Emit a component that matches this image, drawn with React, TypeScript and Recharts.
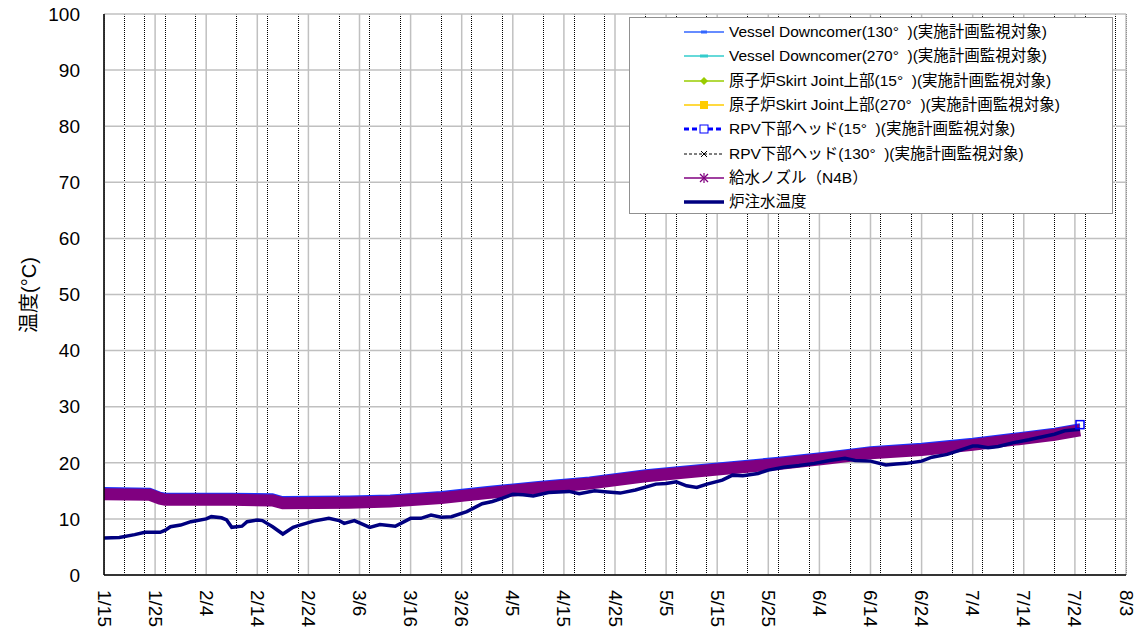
import React from 'react';
import { LineChart, Line, XAxis, YAxis, CartesianGrid, Legend } from 'recharts';

// ---- tick labels ----
const DATE_LABELS = ['1/15', '1/25', '2/4', '2/14', '2/24', '3/6', '3/16', '3/26', '4/5', '4/15', '4/25', '5/5', '5/15', '5/25', '6/4', '6/14', '6/24', '7/4', '7/14', '7/24', '8/3'];
const MAJOR_TICKS = DATE_LABELS.map((_, i) => i * 10);
const MINOR_TICKS = Array.from({ length: 101 }, (_, i) => i * 2).filter((d) => d % 10 !== 0);
const Y_TICKS = [0, 10, 20, 30, 40, 50, 60, 70, 80, 90, 100];

// ---- RPV temperature series (days since 1/15) ----
const BAND_DAYS = [0, 9, 11, 12, 25, 33, 35, 48, 56, 66, 75, 85, 95, 106, 119, 132, 142, 150, 160, 170, 179, 186, 191];
const VESSEL_130 = [15.0, 14.9, 14.2, 14.0, 14.0, 13.9, 13.4, 13.5, 13.7, 14.3, 15.2, 16.1, 16.9, 18.2, 19.3, 20.4, 21.4, 22.3, 22.9, 23.8, 24.8, 25.6, 26.4];
const VESSEL_270 = [14.6, 14.5, 13.8, 13.6, 13.6, 13.5, 13.0, 13.1, 13.3, 13.9, 14.8, 15.7, 16.5, 17.8, 18.9, 20.0, 21.0, 21.9, 22.5, 23.4, 24.4, 25.2, 26.0];
const SKIRT_15 = [14.2, 14.1, 13.4, 13.2, 13.2, 13.1, 12.6, 12.7, 12.9, 13.5, 14.4, 15.3, 16.1, 17.4, 18.5, 19.6, 20.6, 21.5, 22.1, 23.0, 24.0, 24.8, 25.6];
const SKIRT_270 = [14.0, 13.9, 13.2, 13.0, 13.0, 12.9, 12.4, 12.5, 12.7, 13.3, 14.2, 15.1, 15.9, 17.2, 18.3, 19.4, 20.4, 21.3, 21.9, 22.8, 23.8, 24.6, 25.4];
const RPV_15 = [15.4, 15.3, 14.6, 14.4, 14.4, 14.3, 13.8, 13.9, 14.1, 14.7, 15.6, 16.5, 17.3, 18.6, 19.7, 20.8, 21.8, 22.7, 23.3, 24.2, 25.2, 26.0, 26.8];
const RPV_130 = [14.5, 14.4, 13.7, 13.5, 13.5, 13.4, 12.9, 13.0, 13.2, 13.8, 14.7, 15.6, 16.4, 17.7, 18.8, 19.9, 20.9, 21.8, 22.4, 23.3, 24.3, 25.1, 25.9];
const N4B = [14.4, 14.3, 13.6, 13.4, 13.4, 13.3, 12.8, 12.9, 13.1, 13.7, 14.6, 15.5, 16.3, 17.6, 18.7, 19.8, 20.8, 21.7, 22.3, 23.2, 24.2, 25.0, 25.8];

// ---- injection water temperature ----
const INJ_DAYS = [0, 3, 6, 8, 11, 12, 13, 15, 17, 20, 21, 23, 24, 25, 27, 28, 30, 31, 33, 35, 37, 38, 41, 44, 46, 47, 49, 52, 54, 57, 60, 62, 64, 66, 68, 71, 74, 76, 78, 80, 82, 84, 87, 91, 93, 96, 98, 101, 104, 108, 110, 112, 114, 116, 118, 121, 123, 125, 128, 130, 133, 136, 139, 142, 145, 147, 150, 153, 155, 157, 160, 162, 165, 168, 170, 171, 173, 175, 178, 181, 183, 186, 188, 191];
const INJ_TEMP = [6.6, 6.7, 7.2, 7.6, 7.6, 8.0, 8.6, 8.9, 9.5, 10.0, 10.4, 10.2, 9.8, 8.5, 8.7, 9.5, 9.8, 9.7, 8.6, 7.3, 8.5, 8.8, 9.6, 10.1, 9.7, 9.2, 9.7, 8.5, 9.0, 8.7, 10.1, 10.1, 10.7, 10.3, 10.4, 11.3, 12.7, 13.1, 13.7, 14.4, 14.3, 14.1, 14.7, 14.9, 14.5, 15.0, 14.85, 14.6, 15.15, 16.2, 16.3, 16.6, 15.9, 15.6, 16.2, 16.9, 17.8, 17.7, 18.1, 18.7, 19.2, 19.5, 19.9, 20.4, 20.8, 20.4, 20.3, 19.6, 19.8, 19.9, 20.3, 21.0, 21.5, 22.4, 23.0, 23.0, 22.7, 22.9, 23.6, 24.1, 24.5, 25.1, 25.7, 26.0];

const bandData = BAND_DAYS.map((day, i) => ({
  day,
  v130: VESSEL_130[i],
  v270: VESSEL_270[i],
  s15: SKIRT_15[i],
  s270: SKIRT_270[i],
  r15: RPV_15[i],
  r130: RPV_130[i],
  n4b: N4B[i],
}));
const injData = INJ_DAYS.map((day, i) => ({ day, inj: INJ_TEMP[i] }));

const SERIES = [
  { key: 'v130', name: 'Vessel Downcomer(130°  )(実施計画監視対象)', color: '#3366FF' },
  { key: 'v270', name: 'Vessel Downcomer(270°  )(実施計画監視対象)', color: '#33CCCC' },
  { key: 's15', name: '原子炉Skirt Joint上部(15°  )(実施計画監視対象)', color: '#99CC00' },
  { key: 's270', name: '原子炉Skirt Joint上部(270°  )(実施計画監視対象)', color: '#FFCC00' },
  { key: 'r15', name: 'RPV下部ヘッド(15°  )(実施計画監視対象)', color: '#0000FF' },
  { key: 'r130', name: 'RPV下部ヘッド(130°  )(実施計画監視対象)', color: '#000000' },
  { key: 'n4b', name: '給水ノズル（N4B）', color: '#800080' },
  { key: 'inj', name: '炉注水温度', color: '#000080' },
];

const LegendIcon = ({ k, color }: { k: string; color: string }) => {
  const cy = 8;
  let line = <line x1={0} x2={40} y1={cy} y2={cy} stroke={color} strokeWidth={1.5} />;
  let marker: React.ReactNode = null;
  if (k === 'v130') marker = <rect x={17} y={cy - 1.5} width={6} height={3} fill={color} />;
  if (k === 'v270') marker = <rect x={16} y={cy - 1.5} width={8} height={3} fill={color} />;
  if (k === 's15') marker = <polygon points={`20,${cy - 4} 24,${cy} 20,${cy + 4} 16,${cy}`} fill={color} />;
  if (k === 's270') marker = <rect x={16} y={cy - 4} width={8} height={8} fill={color} />;
  if (k === 'r15') {
    line = <line x1={0} x2={40} y1={cy} y2={cy} stroke={color} strokeWidth={3} strokeDasharray="5 3" />;
    marker = <rect x={16} y={cy - 4} width={8} height={8} fill="#fff" stroke={color} strokeWidth={1} />;
  }
  if (k === 'r130') {
    line = <line x1={0} x2={40} y1={cy} y2={cy} stroke={color} strokeWidth={1} strokeDasharray="3 2" />;
    marker = (
      <g stroke={color} strokeWidth={1}>
        <line x1={17} y1={cy - 3} x2={23} y2={cy + 3} />
        <line x1={17} y1={cy + 3} x2={23} y2={cy - 3} />
      </g>
    );
  }
  if (k === 'n4b')
    marker = (
      <g stroke={color} strokeWidth={1.2}>
        <line x1={16} y1={cy - 4} x2={24} y2={cy + 4} />
        <line x1={16} y1={cy + 4} x2={24} y2={cy - 4} />
        <line x1={20} y1={cy - 5} x2={20} y2={cy + 5} />
      </g>
    );
  if (k === 'inj') line = <line x1={0} x2={40} y1={cy} y2={cy} stroke={color} strokeWidth={3.5} />;
  return (
    <svg width={40} height={16} style={{ display: 'block', flex: 'none' }}>
      {line}
      {marker}
    </svg>
  );
};

const renderLegend = () => (
  <div
    style={{
      width: 482,
      height: 193,
      border: '1px solid #909090',
      background: '#fff',
      boxSizing: 'content-box',
      paddingTop: 2,
      fontFamily: '"Liberation Sans", "Noto Sans CJK JP", sans-serif',
      fontSize: 15.5,
      color: '#000',
    }}
  >
    {SERIES.map((s) => (
      <div key={s.key} style={{ display: 'flex', alignItems: 'center', height: 24.3, paddingLeft: 54 }}>
        <LegendIcon k={s.key} color={s.color} />
        <span style={{ marginLeft: 5, whiteSpace: 'pre', lineHeight: '16px' }}>{s.name}</span>
      </div>
    ))}
  </div>
);

const XTick = (props: any) => {
  const { x, y, payload } = props;
  const label = DATE_LABELS[Math.round(payload.value / 10)];
  return (
    <text
      x={x}
      y={y}
      transform={`rotate(90 ${x} ${y})`}
      textAnchor="start"
      dominantBaseline="central"
      fontSize={19}
      fontFamily='"Liberation Sans", Arial, sans-serif'
      fill="#000"
    >
      {label}
    </text>
  );
};

const lastSquare = (props: any) => {
  const { cx, cy, index } = props;
  if (index !== BAND_DAYS.length - 1) return <g key={`d${index}`} />;
  return <rect key={`d${index}`} x={cx - 4} y={cy - 4} width={8} height={8} fill="none" stroke="#0000FF" strokeWidth={1.5} />;
};

export default function App() {
  return (
    <div style={{ position: 'absolute', left: 0, top: 0, width: 1144, height: 636, background: '#fff' }}>
      <LineChart width={1144} height={636} margin={{ top: 14, right: 18, left: 0, bottom: 0 }}>
        <XAxis
          xAxisId="minor"
          type="number"
          dataKey="day"
          domain={[0, 200]}
          ticks={MINOR_TICKS}
          allowDataOverflow
          hide
        />
        <CartesianGrid
          xAxisId="minor"
          horizontal={false}
          stroke="#000"
          strokeDasharray="1 1"
          strokeWidth={1}
          shapeRendering="crispEdges"
        />
        <CartesianGrid stroke="#c0c0c0" strokeWidth={1.5} />
        <XAxis
          type="number"
          dataKey="day"
          domain={[0, 200]}
          ticks={MAJOR_TICKS}
          allowDataOverflow
          interval={0}
          height={61}
          tickLine={false}
          tickSize={6}
          tickMargin={9}
          tick={<XTick />}
          axisLine={{ stroke: '#000', strokeWidth: 1.5 }}
        />
        <YAxis
          type="number"
          domain={[0, 100]}
          ticks={Y_TICKS}
          interval={0}
          width={104}
          tickLine={false}
          tickSize={6}
          tickMargin={18}
          axisLine={{ stroke: '#000', strokeWidth: 1.5 }}
          tick={{ fontSize: 19, fill: '#000', fontFamily: '"Liberation Sans", Arial, sans-serif' }}
          label={{
            content: () => (
              <text
                x={29}
                y={295}
                transform="rotate(-90 29 295)"
                textAnchor="middle"
                dominantBaseline="central"
                fontSize={20}
                fontFamily='"Liberation Sans", "Noto Sans CJK JP", sans-serif'
                fill="#000"
              >
                温度(°C)
              </text>
            ),
          }}
        />
        <Line data={bandData} dataKey="v130" name={SERIES[0].name} stroke="#3366FF" strokeWidth={2} dot={false} isAnimationActive={false} />
        <Line data={bandData} dataKey="r15" name={SERIES[4].name} stroke="#1a33ff" strokeWidth={3} dot={lastSquare} isAnimationActive={false} />
        <Line data={bandData} dataKey="v270" name={SERIES[1].name} stroke="#33CCCC" strokeWidth={2} dot={false} isAnimationActive={false} />
        <Line data={bandData} dataKey="s15" name={SERIES[2].name} stroke="#99CC00" strokeWidth={2} dot={false} isAnimationActive={false} />
        <Line data={bandData} dataKey="s270" name={SERIES[3].name} stroke="#FFCC00" strokeWidth={2} dot={false} isAnimationActive={false} />
        <Line data={bandData} dataKey="r130" name={SERIES[5].name} stroke="#000000" strokeWidth={1} strokeDasharray="3 2" dot={false} isAnimationActive={false} />
        <Line data={bandData} dataKey="n4b" name={SERIES[6].name} stroke="#800080" strokeWidth={12} dot={false} isAnimationActive={false} />
        <Line data={injData} dataKey="inj" name={SERIES[7].name} stroke="#000080" strokeWidth={3.5} dot={false} isAnimationActive={false} />
        <Legend
          layout="vertical"
          align="center"
          verticalAlign="middle"
          content={renderLegend}
          wrapperStyle={{ left: 629, top: 17, width: 484, height: 196, right: 'auto', bottom: 'auto' }}
        />
      </LineChart>
    </div>
  );
}
